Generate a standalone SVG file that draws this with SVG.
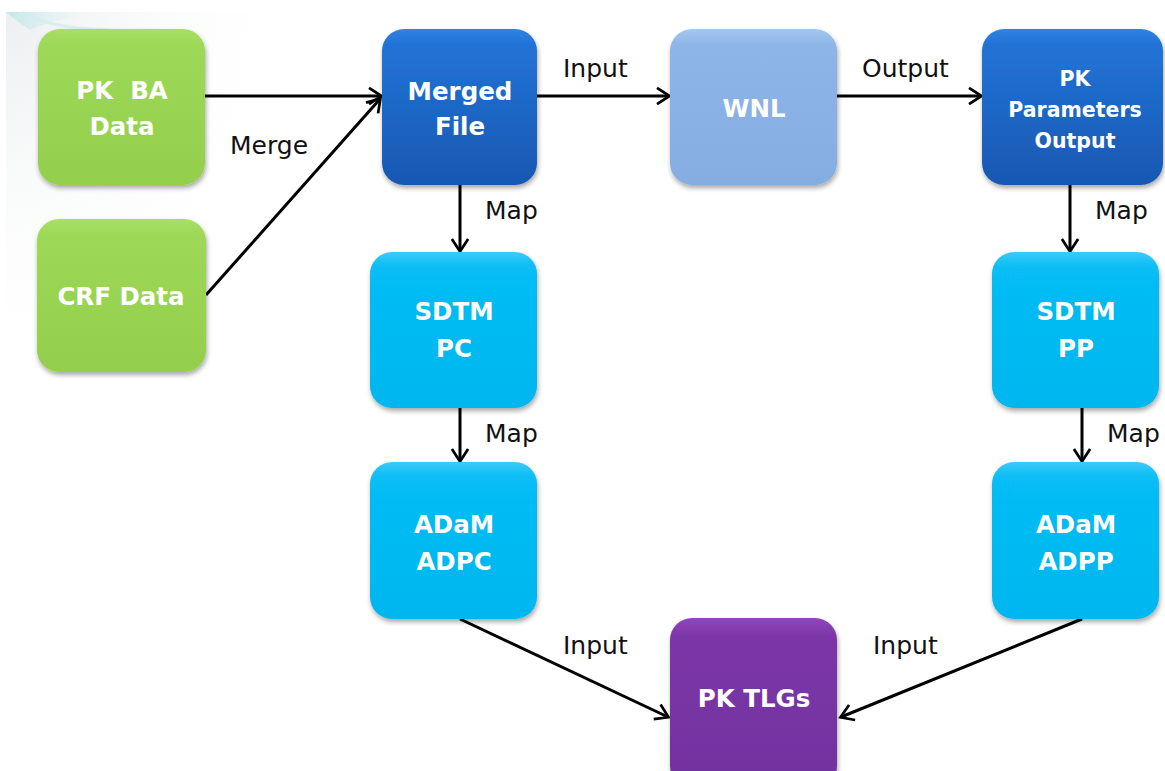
<svg xmlns="http://www.w3.org/2000/svg" width="1165" height="771" viewBox="0 0 1165 771">
<defs>
<style>
.node text{font-family:"DejaVu Sans",Verdana,sans-serif;font-weight:bold;fill:#fff;text-anchor:middle;font-size:24.5px}
.lbl{font-family:"DejaVu Sans",Verdana,sans-serif;font-size:25px;fill:#111}
.conn line{stroke:#000;stroke-width:3;fill:none;marker-end:url(#ah)}
</style>
<marker id="ah" markerWidth="8" markerHeight="8" refX="5.6" refY="4" orient="auto" markerUnits="strokeWidth" viewBox="0 0 8 8">
<path d="M1.6,1.3 L5.8,4 L1.6,6.7" fill="none" stroke="#000" stroke-width="0.9"/>
</marker>
<filter id="sh" x="-10%" y="-10%" width="125%" height="125%">
<feGaussianBlur in="SourceAlpha" stdDeviation="2.5"/>
<feOffset dx="1" dy="3" result="b"/>
<feComponentTransfer><feFuncA type="linear" slope="0.35"/></feComponentTransfer>
<feMerge><feMergeNode/><feMergeNode in="SourceGraphic"/></feMerge>
</filter>
<linearGradient id="gGreen" x1="0" y1="0" x2="0" y2="1"><stop offset="0" stop-color="#a9de66"/><stop offset="0.1" stop-color="#9dd957"/><stop offset="1" stop-color="#93cf4c"/></linearGradient>
<linearGradient id="gDark" x1="0" y1="0" x2="0" y2="1"><stop offset="0" stop-color="#2f83e2"/><stop offset="0.1" stop-color="#2273d6"/><stop offset="1" stop-color="#1858b2"/></linearGradient>
<linearGradient id="gLight" x1="0" y1="0" x2="0" y2="1"><stop offset="0" stop-color="#a3c8f0"/><stop offset="0.1" stop-color="#8db5e8"/><stop offset="1" stop-color="#85ade2"/></linearGradient>
<linearGradient id="gCyan" x1="0" y1="0" x2="0" y2="1"><stop offset="0" stop-color="#3ccaf8"/><stop offset="0.1" stop-color="#07bdf5"/><stop offset="1" stop-color="#00b6ee"/></linearGradient>
<linearGradient id="gPurple" x1="0" y1="0" x2="0" y2="1"><stop offset="0" stop-color="#9246bd"/><stop offset="0.1" stop-color="#7c36a7"/><stop offset="1" stop-color="#7232a0"/></linearGradient>
<radialGradient id="gBg" cx="0" cy="0" r="1" gradientUnits="objectBoundingBox"><stop offset="0" stop-color="#eceff0"/><stop offset="1" stop-color="#ffffff" stop-opacity="0"/></radialGradient>
<linearGradient id="gArc" x1="0" y1="0" x2="1" y2="0"><stop offset="0" stop-color="#c4e6e8"/><stop offset="1" stop-color="#ffffff" stop-opacity="0"/></linearGradient>
</defs>
<rect width="1165" height="771" fill="#fff"/>
<rect x="6" y="12" width="300" height="380" fill="url(#gBg)"/>
<path d="M6,12 L120,12 Q60,16 30,30 Q15,20 6,12 Z" fill="url(#gArc)"/>
<path d="M22,12 Q45,28 110,30" fill="none" stroke="#d4ecee" stroke-width="3" opacity="0.8"/>

<g id="connectors" class="conn">
<line x1="205" y1="96" x2="381" y2="96"/>
<line x1="206" y1="295" x2="380" y2="99"/>
<line x1="537" y1="96" x2="669" y2="96"/>
<line x1="837" y1="96" x2="981" y2="96"/>
<line x1="460" y1="185" x2="460" y2="251"/>
<line x1="460" y1="408" x2="460" y2="461"/>
<line x1="1070" y1="185" x2="1070" y2="251"/>
<line x1="1082" y1="408" x2="1082" y2="461"/>
<line x1="460" y1="619" x2="668" y2="717"/>
<line x1="1082" y1="619" x2="841" y2="717"/>
</g>

<g id="labels">
<text class="lbl" x="230" y="154">Merge</text>
<text class="lbl" x="563" y="77">Input</text>
<text class="lbl" x="862" y="77">Output</text>
<text class="lbl" x="485" y="219">Map</text>
<text class="lbl" x="485" y="442">Map</text>
<text class="lbl" x="1095" y="219">Map</text>
<text class="lbl" x="1107" y="442">Map</text>
<text class="lbl" x="563" y="654">Input</text>
<text class="lbl" x="873" y="654">Input</text>
</g>

<g id="pkba" class="node"><rect x="38" y="29" width="167" height="156" rx="22" fill="url(#gGreen)" filter="url(#sh)"/><text x="122" y="99" xml:space="preserve">PK  BA</text><text x="122" y="135">Data</text></g>
<g id="crf" class="node"><rect x="37" y="219" width="169" height="153" rx="22" fill="url(#gGreen)" filter="url(#sh)"/><text x="121" y="305">CRF Data</text></g>
<g id="merged" class="node"><rect x="382" y="29" width="155" height="156" rx="22" fill="url(#gDark)" filter="url(#sh)"/><text x="460" y="100">Merged</text><text x="460" y="135">File</text></g>
<g id="wnl" class="node"><rect x="670" y="29" width="167" height="156" rx="22" fill="url(#gLight)" filter="url(#sh)"/><text x="754" y="117">WNL</text></g>
<g id="pkparams" class="node"><rect x="982" y="29" width="181" height="156" rx="22" fill="url(#gDark)" filter="url(#sh)"/><text x="1075" y="86" style="font-size:20.5px">PK</text><text x="1075" y="117" style="font-size:20.5px">Parameters</text><text x="1075" y="148" style="font-size:20.5px">Output</text></g>
<g id="sdtmpc" class="node"><rect x="370" y="252" width="167" height="156" rx="22" fill="url(#gCyan)" filter="url(#sh)"/><text x="454" y="320">SDTM</text><text x="454" y="357">PC</text></g>
<g id="adpc" class="node"><rect x="370" y="462" width="167" height="157" rx="22" fill="url(#gCyan)" filter="url(#sh)"/><text x="454" y="533">ADaM</text><text x="454" y="570">ADPC</text></g>
<g id="sdtmpp" class="node"><rect x="992" y="252" width="167" height="156" rx="22" fill="url(#gCyan)" filter="url(#sh)"/><text x="1076" y="320">SDTM</text><text x="1076" y="357">PP</text></g>
<g id="adpp" class="node"><rect x="992" y="462" width="167" height="157" rx="22" fill="url(#gCyan)" filter="url(#sh)"/><text x="1076" y="533">ADaM</text><text x="1076" y="570">ADPP</text></g>
<g id="pktlgs" class="node"><rect x="670" y="618" width="167" height="170" rx="22" fill="url(#gPurple)" filter="url(#sh)"/><text x="754" y="707">PK TLGs</text></g>
</svg>
